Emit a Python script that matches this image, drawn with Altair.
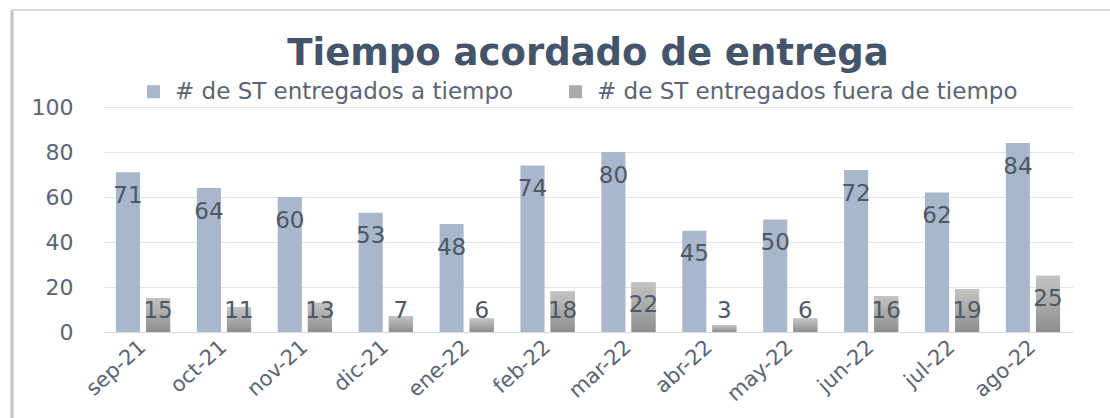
import altair as alt
import pandas as pd

months = ["sep-21", "oct-21", "nov-21", "dic-21", "ene-22", "feb-22",
          "mar-22", "abr-22", "may-22", "jun-22", "jul-22", "ago-22"]
a_tiempo = [71, 64, 60, 53, 48, 74, 80, 45, 50, 72, 62, 84]
fuera_tiempo = [15, 11, 13, 7, 6, 18, 22, 3, 6, 16, 19, 25]

s1 = "# de ST entregados a tiempo"
s2 = "# de ST entregados fuera de tiempo"
series = [s1, s2]

rows = []
for i, m in enumerate(months):
    rows.append({"mes": m, "serie": s1, "valor": a_tiempo[i]})
    rows.append({"mes": m, "serie": s2, "valor": fuera_tiempo[i]})
df = pd.DataFrame(rows)

FONT = "DejaVu Sans"
TXT = "#5B6475"

x = alt.X("mes:N", sort=months,
          scale=alt.Scale(paddingInner=0.33, paddingOuter=0.16),
          axis=alt.Axis(title=None, labelAngle=-42, labelAlign="right",
                        labelBaseline="middle", labelFontSize=21, labelFont=FONT,
                        labelColor=TXT, ticks=False, domain=True,
                        domainColor="#D9D9D9", labelPadding=12))
xo = alt.XOffset("serie:N", sort=series,
                 scale=alt.Scale(domain=series, paddingInner=0.2))
y = alt.Y("valor:Q", scale=alt.Scale(domain=[0, 100]),
          axis=alt.Axis(title=None, values=[0, 20, 40, 60, 80, 100],
                        labelFontSize=22, labelFont=FONT, labelColor=TXT,
                        ticks=False, domain=False, gridColor="#E3E3E3",
                        labelPadding=30))

base = alt.Chart(df)

bars = base.mark_bar().encode(
    x=x, xOffset=xo, y=y,
    color=alt.Color("serie:N", sort=series,
                    scale=alt.Scale(domain=series, range=["#A9B7CD", "#ABABAB"]),
                    legend=alt.Legend(title=None, orient="none", direction="horizontal",
                                      legendX=39, legendY=-27,
                                      symbolType="square", symbolSize=170,
                                      symbolStrokeWidth=0,
                                      labelFontSize=23, labelFont=FONT, labelColor=TXT,
                                      labelLimit=600, columnPadding=50, labelOffset=10)),
)

grad = alt.Gradient(gradient="linear",
                    stops=[alt.GradientStop(color="#C4C4C4", offset=0),
                           alt.GradientStop(color="#8E8E8E", offset=1)],
                    x1=0, x2=0, y1=0, y2=1)

gray_bars = base.transform_filter(alt.datum.serie == s2).mark_bar(color=grad).encode(
    x=x, xOffset=xo, y=y)

labels = base.transform_calculate(
    ly="datum.serie == '" + s1 + "' ? datum.valor - 10.5 : max(datum.valor - 10.2, 9.3)"
).mark_text(fontSize=23, font=FONT, color="#4F5866", baseline="middle").encode(
    x=x, xOffset=xo,
    y=alt.Y("ly:Q"),
    text=alt.Text("valor:Q"))

frame_left = alt.Chart(pd.DataFrame({"k": [0]})).mark_rule(
    color="#C4C4C4", strokeWidth=3, clip=False).encode(
    x=alt.value(-91), y=alt.value(-97), y2=alt.value(320))
frame_top = alt.Chart(pd.DataFrame({"k": [0]})).mark_rule(
    color="#DADADA", strokeWidth=2, clip=False).encode(
    x=alt.value(-91), x2=alt.value(1010), y=alt.value(-97))

chart = alt.layer(bars, gray_bars, labels, frame_left, frame_top).properties(
    width=970, height=225,
    title=alt.TitleParams("Tiempo acordado de entrega", fontSize=37, font=FONT,
                          fontWeight="bold", color="#44546A", anchor="middle",
                          offset=0, dy=64),
    autosize=alt.AutoSizeParams(type="none"),
    padding={"left": 103, "top": 107, "right": 37, "bottom": 86},
).configure_view(stroke=None).resolve_scale(y="shared")

chart.save("out.html", embed_options={"renderer": "svg", "actions": False})
